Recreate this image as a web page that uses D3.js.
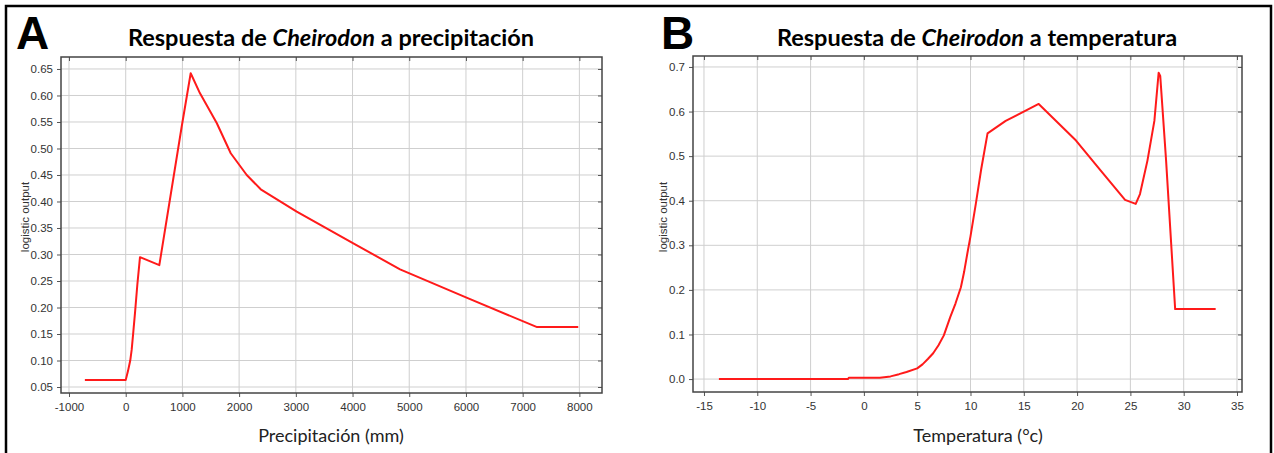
<!DOCTYPE html>
<html>
<head>
<meta charset="utf-8">
<script src="https://cdn.jsdelivr.net/npm/d3@7"></script>
<style>
  body { margin: 0; background: #fff; }
  svg { display: block; }
</style>
</head>
<body>
<div id="chart"></div>
<script>
// panel A: precipitation response
var precipX = [-720, 0, 40, 80, 105, 135, 164, 205, 252, 593, 987, 1146, 1310, 1605, 1852, 2134, 2381, 3016, 4014, 4838, 6000, 7254, 7980];
var precipY = [0.063, 0.063, 0.08, 0.10, 0.12, 0.155, 0.19, 0.243, 0.295, 0.280, 0.541, 0.642, 0.604, 0.548, 0.491, 0.450, 0.423, 0.381, 0.321, 0.272, 0.219, 0.163, 0.163];
var precipTicksX = [-1000, 0, 1000, 2000, 3000, 4000, 5000, 6000, 7000, 8000];
var precipTicksY = [0.05, 0.10, 0.15, 0.20, 0.25, 0.30, 0.35, 0.40, 0.45, 0.50, 0.55, 0.60, 0.65];

// panel B: temperature response
var tempX = [-13.6, -1.5, -1.4, 1.5, 2.5, 3.3, 4.0, 5.0, 5.5, 6.0, 6.5, 7.0, 7.5, 8.1, 8.6, 9.1, 9.4, 9.7, 10.0, 10.5, 11.0, 11.6, 13.3, 16.4, 19.9, 22.2, 24.5, 25.5, 25.9, 26.6, 27.25, 27.65, 27.8, 28.35, 29.2, 33.0];
var tempY = [0.0, 0.0, 0.003, 0.003, 0.006, 0.011, 0.016, 0.024, 0.033, 0.045, 0.058, 0.076, 0.098, 0.139, 0.17, 0.206, 0.24, 0.281, 0.32, 0.393, 0.47, 0.551, 0.579, 0.617, 0.535, 0.468, 0.402, 0.393, 0.415, 0.49, 0.579, 0.687, 0.68, 0.49, 0.157, 0.157];
var tempTicksX = [-15, -10, -5, 0, 5, 10, 15, 20, 25, 30, 35];
var tempTicksY = [0.0, 0.1, 0.2, 0.3, 0.4, 0.5, 0.6, 0.7];

var W = 1274, H = 453;
var svg = d3.select("#chart").append("svg")
    .attr("width", W)
    .attr("height", H);

// outer frame (bottom edge runs off the picture)
svg.append("rect")
    .attr("x", 6).attr("y", 6)
    .attr("width", 1265).attr("height", 470)
    .attr("fill", "none")
    .attr("stroke", "#000")
    .attr("stroke-width", 2.5);

var tickFont = "'Liberation Sans', Arial, sans-serif";
var titleFont = "Lato, 'Open Sans', sans-serif";

function panel(o) {
  var g = svg.append("g");
  var x = d3.scaleLinear().domain(o.xDomain).range([o.left, o.right]);
  var y = d3.scaleLinear().domain(o.yDomain).range([o.bottom, o.top]);

  // grid
  g.selectAll(".vg").data(o.ticksX).enter().append("line")
      .attr("x1", function(d) { return x(d); }).attr("x2", function(d) { return x(d); })
      .attr("y1", o.top).attr("y2", o.bottom)
      .attr("stroke", "#cfcfcf").attr("stroke-width", 1);
  g.selectAll(".hg").data(o.ticksY).enter().append("line")
      .attr("y1", function(d) { return y(d); }).attr("y2", function(d) { return y(d); })
      .attr("x1", o.left).attr("x2", o.right)
      .attr("stroke", "#cfcfcf").attr("stroke-width", 1);

  // axes (plain hyphen for negatives, like the original)
  var xAxis = d3.axisBottom(x).tickValues(o.ticksX).tickSize(4).tickPadding(6)
      .tickFormat(function(d) { return String(d); });
  var yAxis = d3.axisLeft(y).tickValues(o.ticksY).tickSize(4).tickPadding(4)
      .tickFormat(d3.format(o.yFmt));
  var gx = g.append("g").attr("transform", "translate(0," + o.bottom + ")").call(xAxis);
  var gy = g.append("g").attr("transform", "translate(" + o.left + ",0)").call(yAxis);
  [gx, gy].forEach(function(a) {
    a.select(".domain").remove();
    a.selectAll("line").attr("stroke", "#555");
    a.selectAll("text").attr("font-family", tickFont).attr("font-size", 11.5).attr("fill", "#333");
  });
  // inward ticks on top and right
  g.append("g").attr("transform", "translate(0," + o.top + ")")
      .call(d3.axisBottom(x).tickValues(o.ticksX).tickSize(4).tickFormat(""))
      .call(function(a) { a.select(".domain").remove(); a.selectAll("line").attr("stroke", "#555"); });
  g.append("g").attr("transform", "translate(" + o.right + ",0)")
      .call(d3.axisLeft(y).tickValues(o.ticksY).tickSize(4).tickFormat(""))
      .call(function(a) { a.select(".domain").remove(); a.selectAll("line").attr("stroke", "#555"); });

  // plot outline
  g.append("rect")
      .attr("x", o.left).attr("y", o.top)
      .attr("width", o.right - o.left).attr("height", o.bottom - o.top)
      .attr("fill", "none").attr("stroke", "#444").attr("stroke-width", 1.5);

  // response curve
  var pts = o.xs.map(function(d, i) { return [d, o.ys[i]]; });
  g.append("path")
      .datum(pts)
      .attr("d", d3.line().x(function(d) { return x(d[0]); }).y(function(d) { return y(d[1]); }))
      .attr("fill", "none")
      .attr("stroke", "#ff1a1a")
      .attr("stroke-width", 2)
      .attr("stroke-linejoin", "round");

  // title
  var t = g.append("text")
      .attr("x", o.titleX).attr("y", 46)
      .attr("text-anchor", "middle")
      .attr("font-family", titleFont)
      .attr("font-weight", "bold")
      .attr("font-size", 23.5)
      .attr("fill", "#000");
  t.append("tspan").text("Respuesta de ");
  t.append("tspan").attr("font-style", "italic").text("Cheirodon");
  t.append("tspan").text(" a " + o.title);

  // panel letter
  g.append("text")
      .attr("x", o.letterX).attr("y", 49)
      .attr("font-family", "'Liberation Sans', Arial, sans-serif")
      .attr("font-weight", "bold")
      .attr("font-size", 46)
      .attr("fill", "#000")
      .text(o.letter);

  // axis titles
  g.append("text")
      .attr("x", o.xLabelX).attr("y", 442)
      .attr("text-anchor", "middle")
      .attr("font-family", titleFont)
      .attr("font-size", 18)
      .attr("fill", "#222")
      .text(o.xLabel);
  g.append("text")
      .attr("transform", "translate(" + o.yLabelX + ",217) rotate(-90)")
      .attr("text-anchor", "middle")
      .attr("font-family", tickFont)
      .attr("font-size", 11.5)
      .attr("fill", "#333")
      .text("logistic output");
}

panel({
  xs: precipX, ys: precipY, ticksX: precipTicksX, ticksY: precipTicksY,
  xDomain: [-1141, 8399], yDomain: [0.0387, 0.6726], yFmt: ".2f",
  left: 61, right: 602, top: 57, bottom: 393,
  title: "precipitación", titleX: 331, letter: "A", letterX: 16,
  xLabel: "Precipitación (mm)", xLabelX: 331, yLabelX: 29
});

panel({
  xs: tempX, ys: tempY, ticksX: tempTicksX, ticksY: tempTicksY,
  xDomain: [-16.03, 35.47], yDomain: [-0.029, 0.7246], yFmt: ".1f",
  left: 693, right: 1242, top: 56, bottom: 392,
  title: "temperatura", titleX: 977, letter: "B", letterX: 661,
  xLabel: "Temperatura (°c)", xLabelX: 978, yLabelX: 667
});
</script>
</body>
</html>
